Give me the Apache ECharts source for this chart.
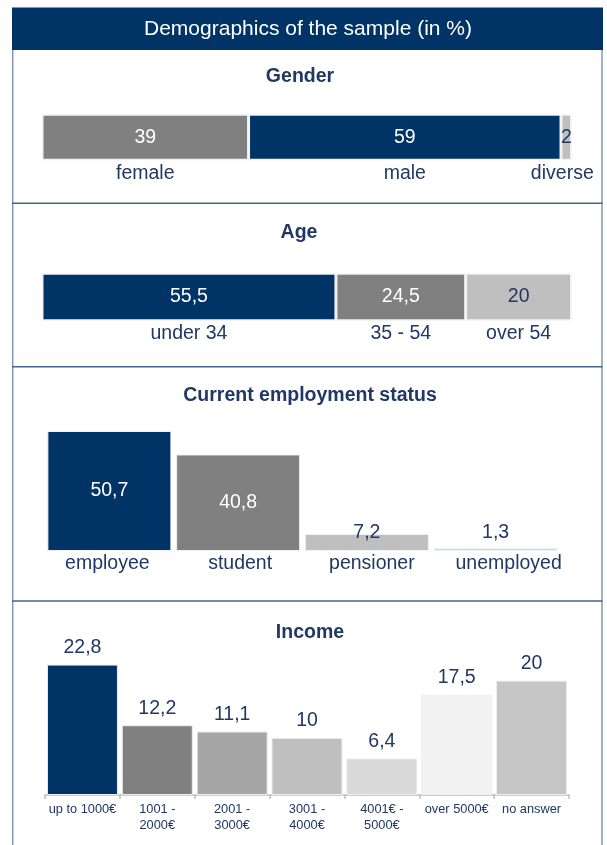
<!DOCTYPE html>
<html>
<head>
<meta charset="utf-8">
<script src="https://cdn.jsdelivr.net/npm/echarts@6/dist/echarts.min.js"></script>
<style>
html,body{margin:0;padding:0;background:#fff;}
#chart{width:607px;height:845px;}
</style>
</head>
<body>
<div id="chart"></div>
<script>
// ---- data ----
const chartTitle = 'Demographics of the sample (in %)';
const sectionTitles = ['Gender', 'Age', 'Current employment status', 'Income'];

const genderCategories = ['female', 'male', 'diverse'];
const genderValues = [39, 59, 2];

const ageCategories = ['under 34', '35 - 54', 'over 54'];
const ageValues = [55.5, 24.5, 20];

const employmentCategories = ['employee', 'student', 'pensioner', 'unemployed'];
const employmentValues = [50.7, 40.8, 7.2, 1.3];

const incomeCategories = ['up to 1000€', '1001 -\n2000€', '2001 -\n3000€', '3001 -\n4000€', '4001€ -\n5000€', 'over 5000€', 'no answer'];
const incomeValues = [22.8, 12.2, 11.1, 10, 6.4, 17.5, 20];

// ---- styles ----
const NAVY = '#003366';
const TEXT = '#1f3864';
const FONT = '"Liberation Sans", Arial, Helvetica, sans-serif';
const FS = 19.5;
const genderColors = ['#808080', NAVY, '#bfbfbf'];
const genderLabelColors = ['#ffffff', '#ffffff', TEXT];
const ageColors = [NAVY, '#808080', '#bfbfbf'];
const ageLabelColors = ['#ffffff', '#ffffff', TEXT];
const employmentColors = [NAVY, '#808080', '#bfbfbf', '#d9d9d9'];
const employmentLabelPads = [[0, 4, 0, 0], [0, 0, 0, 4], [0, 0, 0, 10], [0, 0, 0, 26]];
const incomeColors = [NAVY, '#808080', '#a6a6a6', '#bfbfbf', '#d9d9d9', '#f2f2f2', '#c6c6c6'];

const fmt = v => String(v).replace('.', ',');

function stackSeries(cats, vals, colors, labelColors, idx, barW, nameOffsets) {
  return cats.map((c, i) => ({
    type: 'bar', name: c, stack: 'st' + idx,
    xAxisIndex: idx, yAxisIndex: idx,
    barWidth: barW,
    silent: true,
    data: [
      { value: vals[i],
        itemStyle: { color: colors[i], borderColor: '#f2f2f2', borderWidth: 1.5 },
        label: { show: true, position: 'inside', color: labelColors[i], fontSize: FS, fontFamily: FONT, formatter: fmt(vals[i]) } },
      { value: vals[i],
        itemStyle: { color: 'rgba(0,0,0,0)', borderWidth: 0 },
        label: { show: true, position: 'inside', color: TEXT, fontSize: FS, fontFamily: FONT, formatter: c, offset: nameOffsets[i] } }
    ]
  }));
}

const empRich = {};
employmentLabelPads.forEach((p, i) => {
  empRich['e' + i] = { color: TEXT, fontSize: FS, fontFamily: FONT, padding: p };
});

const chart = echarts.init(document.getElementById('chart'), null, { renderer: 'canvas' });

const option = {
  animation: false,
  backgroundColor: '#ffffff',
  textStyle: { fontFamily: FONT },
  grid: [
    { left: 42, width: 529.6, top: 113.3, height: 96 },
    { left: 42, width: 529.6, top: 273, height: 96 },
    { left: 45, width: 515, top: 409, height: 142 },
    { left: 45, width: 524, top: 652, height: 143 }
  ],
  xAxis: [
    { gridIndex: 0, type: 'value', min: 0, max: 100, show: false },
    { gridIndex: 1, type: 'value', min: 0, max: 100, show: false },
    { gridIndex: 2, type: 'category', data: employmentCategories,
      axisLine: { show: false }, axisTick: { show: false },
      axisLabel: { color: TEXT, fontSize: FS, fontFamily: FONT, margin: 3, interval: 0,
        formatter: (val, idx) => '{e' + idx + '|' + val + '}', rich: empRich } },
    { gridIndex: 3, type: 'category', data: incomeCategories,
      axisLine: { show: true, lineStyle: { color: '#bfbfbf', width: 1.5 } },
      axisTick: { show: true, length: 4, lineStyle: { color: '#bfbfbf', width: 1.5 } },
      axisLabel: { color: TEXT, fontSize: 12.8, lineHeight: 15.5, fontFamily: FONT, margin: 7, interval: 0 } }
  ],
  yAxis: [
    { gridIndex: 0, type: 'category', data: ['bar', 'name'], inverse: true, show: false },
    { gridIndex: 1, type: 'category', data: ['bar', 'name'], inverse: true, show: false },
    { gridIndex: 2, type: 'value', min: 0, max: 60, show: false },
    { gridIndex: 3, type: 'value', min: 0, max: 25, show: false }
  ],
  series: [
    ...stackSeries(genderCategories, genderValues, genderColors, genderLabelColors, 0, 46, [[0,-11.3],[0,-11.3],[-4,-11.3]]),
    ...stackSeries(ageCategories, ageValues, ageColors, ageLabelColors, 1, 47.5, [[0,-11],[0,-11],[0,-11]]),
    {
      type: 'bar', xAxisIndex: 2, yAxisIndex: 2, barWidth: 124, silent: true,
      data: employmentValues.map((v, i) => ({
        value: v,
        itemStyle: { color: employmentColors[i], borderColor: '#eef1f5', borderWidth: 1 },
        label: i < 2
          ? { show: true, position: 'inside', color: '#ffffff', fontSize: FS, fontFamily: FONT, formatter: fmt(v) }
          : { show: true, position: 'insideBottom', distance: 8, color: TEXT, fontSize: FS, fontFamily: FONT, formatter: fmt(v) }
      }))
    },
    {
      type: 'bar', xAxisIndex: 3, yAxisIndex: 3, barWidth: 71, silent: true,
      data: incomeValues.map((v, i) => ({
        value: v,
        itemStyle: { color: incomeColors[i], borderColor: '#eeeeee', borderWidth: 1 },
        label: { show: true, position: 'top', distance: 7, color: TEXT, fontSize: FS, fontFamily: FONT, formatter: fmt(v) }
      }))
    }
  ],
  graphic: [
    { type: 'rect', shape: { x: 12, y: 7.5, width: 591, height: 42.5 }, style: { fill: NAVY }, silent: true },
    { type: 'text', x: 308, y: 29, style: { text: chartTitle, fill: '#ffffff', font: '21px ' + FONT, textAlign: 'center', textVerticalAlign: 'middle' }, silent: true },
    { type: 'line', shape: { x1: 12.7, y1: 50, x2: 12.7, y2: 845 }, style: { stroke: '#8497b0', lineWidth: 1.5 }, silent: true },
    { type: 'line', shape: { x1: 602, y1: 50, x2: 602, y2: 845 }, style: { stroke: '#8497b0', lineWidth: 1.5 }, silent: true },
    { type: 'line', shape: { x1: 12, y1: 203.3, x2: 602.5, y2: 203.3 }, style: { stroke: '#44648c', lineWidth: 1.5 }, silent: true },
    { type: 'line', shape: { x1: 12, y1: 366.7, x2: 602.5, y2: 366.7 }, style: { stroke: '#44648c', lineWidth: 1.5 }, silent: true },
    { type: 'line', shape: { x1: 12, y1: 601, x2: 602.5, y2: 601 }, style: { stroke: '#44648c', lineWidth: 1.5 }, silent: true },
    { type: 'text', x: 300, y: 77, style: { text: sectionTitles[0], fill: TEXT, font: 'bold 19.5px ' + FONT, textAlign: 'center', textVerticalAlign: 'middle' }, silent: true },
    { type: 'text', x: 299, y: 233, style: { text: sectionTitles[1], fill: TEXT, font: 'bold 19.5px ' + FONT, textAlign: 'center', textVerticalAlign: 'middle' }, silent: true },
    { type: 'text', x: 310, y: 396, style: { text: sectionTitles[2], fill: TEXT, font: 'bold 19.5px ' + FONT, textAlign: 'center', textVerticalAlign: 'middle' }, silent: true },
    { type: 'text', x: 310, y: 633, style: { text: sectionTitles[3], fill: TEXT, font: 'bold 19.5px ' + FONT, textAlign: 'center', textVerticalAlign: 'middle' }, silent: true }
  ]
};

chart.setOption(option);
</script>
</body>
</html>
